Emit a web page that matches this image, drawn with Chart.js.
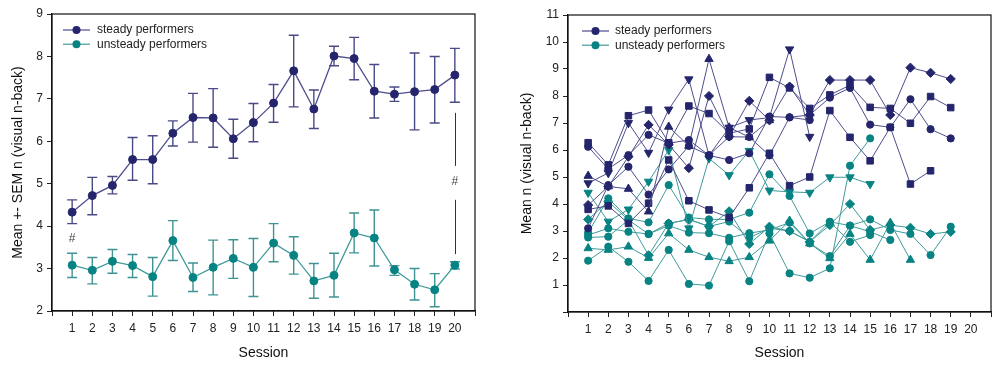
<!DOCTYPE html>
<html><head><meta charset="utf-8">
<script src="https://cdn.jsdelivr.net/npm/chart.js@4/dist/chart.umd.min.js"></script>
<style>
html,body{margin:0;padding:0;background:#fff;width:1000px;height:366px;overflow:hidden}
#w1{position:absolute;left:0;top:0;width:490px;height:366px}
#w2{position:absolute;left:500px;top:0;width:500px;height:366px}
</style></head><body>
<div id="w1"><canvas id="c1"></canvas></div>
<div id="w2"><canvas id="c2"></canvas></div>
<script>
// ---------- data ----------
const sessions = [1,2,3,4,5,6,7,8,9,10,11,12,13,14,15,16,17,18,19,20];
const legendLabels = ['steady performers','unsteady performers'];

// left chart: group means with SEM bounds
const steadyMean   = [4.33,4.72,4.96,5.57,5.57,6.19,6.56,6.55,6.06,6.44,6.90,7.66,6.76,8.01,7.95,7.18,7.11,7.17,7.22,7.56];
const steadyHi     = [4.62,5.15,5.17,6.09,6.13,6.48,7.13,7.24,6.52,6.89,7.34,8.50,7.21,8.24,8.45,7.81,7.28,8.08,8.00,8.19];
const steadyLo     = [4.06,4.27,4.76,5.08,5.00,5.89,5.98,5.86,5.60,5.99,6.45,6.81,6.30,7.78,7.45,6.55,6.94,6.27,6.43,6.92];
const unsteadyMean = [3.08,2.96,3.17,3.07,2.81,3.66,2.79,3.03,3.24,3.03,3.60,3.31,2.71,2.84,3.84,3.72,2.97,2.63,2.50,3.08];
const unsteadyHi   = [3.36,3.26,3.45,3.33,3.26,4.13,3.13,3.67,3.68,3.71,4.06,3.75,3.12,3.36,4.31,4.38,3.07,3.00,2.88,3.16];
const unsteadyLo   = [2.79,2.64,2.89,2.79,2.35,3.19,2.46,2.38,2.77,2.34,3.16,2.87,2.30,2.33,3.37,3.06,2.84,2.26,2.10,2.99];
// significance marks (left chart)
const hashMarks = [{x:1,y:3.70},{x:20,y:5.04}];
const sigLines  = [{x:20,from:5.42,to:6.67},{x:20,from:3.34,to:4.62}];

// right chart: individual subjects
const steadySquareA  = [6.27,5.45,7.27,7.48,6.27,7.63,7.35,6.62,6.78,8.69,8.30,7.54,8.04,8.40,7.58,7.54,6.99,7.98,7.57];
const steadyCircleA  = [6.12,5.30,5.81,6.56,6.25,6.37,5.80,5.63,5.88,7.24,7.21,7.30,7.94,8.30,6.94,6.84,7.88,6.77,6.43];
const steadyTriUp    = [5.04,4.65,4.56,3.72,6.86,6.15,9.37,6.83,6.48,7.10];
const steadyTriDown  = [4.77,5.15,7.00,5.90,7.50,8.62,5.80,6.83,7.11,7.20,9.73,6.49];
const steadyDiamond  = [3.96,4.65,5.75,6.93,6.20,5.33,8.00,6.50,7.82,7.10,8.35,7.30,8.59,8.59,8.59,7.30,9.05,8.86,8.63];
const steadySquareB  = [3.80,3.93,3.28,4.03,5.63,4.12,3.78,3.50,4.60,5.88,4.68,5.00,7.46,6.47,5.60,6.84,4.74,5.23];
const steadyCircleB  = [3.10,4.70,5.38,4.35,5.28,6.15,5.81,6.49,6.48,5.80,7.21,7.11];

const unsteadyTriDown = [4.42,3.35,3.80,4.83,6.00,3.10,5.69,5.07,5.97,4.50,4.45,4.42,4.99,4.99,4.74];
const unsteadyCircleA = [2.94,4.21,3.47,3.32,4.70,3.50,3.43,3.43,3.68,5.10,4.30,2.91,3.34,2.60,2.85];
const unsteadyDiamond = [3.43,4.09,3.41,2.10,3.28,3.43,3.17,3.73,2.52,3.16,3.00,2.60,3.22,4.00,3.04,3.22,3.12,2.89,2.97];
const unsteadyCircleB = [2.85,3.10,2.97,2.89,3.20,2.94,2.92,2.75,2.92,3.04,3.31,2.54,2.07,3.20,3.43,3.04,2.89,2.11,3.16];
const unsteadyTriUp   = [2.36,2.30,2.42,2.00,2.91,2.30,2.03,1.88,2.03,2.64,3.38,2.54,1.99,2.89,1.93,3.30,1.93];
const unsteadyCircleC = [1.90,2.42,1.86,1.15,2.30,1.04,0.98,2.62,1.14,2.91,1.43,1.27,1.62,5.42,6.43];
const unsteadyCircleD = [2.76,2.79,3.41,2.89,3.28,3.43,3.17,3.35,2.75,3.10,3.00,2.60,3.34,3.20,2.97,2.67];

// ---------- styling ----------
const NAVY='#25256d', NAVY_LINE='#4d4d8c', NAVY_ERR='#4a4a86';
const TEAL='#088383', TEAL_LINE='#3f9a9a', TEAL_ERR='#3f9393';
const FONT='"Liberation Sans", Arial, sans-serif';
const pts = arr => arr.map((v,i)=>({x:sessions[i], y:v}));

const errorBars = {
  id:'errorBars',
  beforeDatasetsDraw(chart){
    const {ctx} = chart, xs=chart.scales.x, ys=chart.scales.y;
    chart.data.datasets.forEach(ds=>{
      if(!ds.errHi) return;
      ctx.save(); ctx.strokeStyle=ds.errColor; ctx.lineWidth=1.4;
      ds.errHi.forEach((hi,i)=>{
        const x=xs.getPixelForValue(sessions[i]);
        const yh=ys.getPixelForValue(hi), yl=ys.getPixelForValue(ds.errLo[i]);
        ctx.beginPath();
        ctx.moveTo(x,yh); ctx.lineTo(x,yl);
        ctx.moveTo(x-5,yh); ctx.lineTo(x+5,yh);
        ctx.moveTo(x-5,yl); ctx.lineTo(x+5,yl);
        ctx.stroke();
      });
      ctx.restore();
    });
  }
};
const frame = {
  id:'frame',
  afterDraw(chart){
    const {ctx, chartArea:a} = chart;
    ctx.save(); ctx.strokeStyle='#111'; ctx.lineWidth=1.2;
    ctx.strokeRect(a.left, a.top, a.right-a.left, a.bottom-a.top);
    ctx.restore();
  }
};
function legendPlugin(dx, dtext){
  return {id:'customLegend', afterDraw(chart){
    const {ctx, chartArea:a} = chart;
    const items=[{t:legendLabels[0],l:NAVY_LINE,m:NAVY},{t:legendLabels[1],l:TEAL_LINE,m:TEAL}];
    items.forEach((it,i)=>{
      const y=a.top+16+i*14.2, x0=a.left+dx;
      ctx.save();
      ctx.strokeStyle=it.l; ctx.lineWidth=1.2;
      ctx.beginPath(); ctx.moveTo(x0,y); ctx.lineTo(x0+27,y); ctx.stroke();
      ctx.fillStyle=it.m; ctx.beginPath(); ctx.arc(x0+13.5,y,4,0,Math.PI*2); ctx.fill();
      ctx.fillStyle='#222'; ctx.font='12px '+FONT; ctx.textBaseline='middle';
      ctx.fillText(it.t, a.left+dtext, y);
      ctx.restore();
    });
  }};
}
const annotations = {
  id:'annot',
  afterDatasetsDraw(chart){
    const {ctx} = chart, xs=chart.scales.x, ys=chart.scales.y;
    ctx.save();
    ctx.strokeStyle='#333'; ctx.lineWidth=1;
    sigLines.forEach(s=>{
      const x=Math.round(xs.getPixelForValue(s.x))+0.5;
      ctx.beginPath(); ctx.moveTo(x,ys.getPixelForValue(s.from)); ctx.lineTo(x,ys.getPixelForValue(s.to)); ctx.stroke();
    });
    ctx.fillStyle='#444'; ctx.font='12px '+FONT; ctx.textAlign='center'; ctx.textBaseline='middle';
    hashMarks.forEach(h=>ctx.fillText('#', xs.getPixelForValue(h.x), ys.getPixelForValue(h.y)));
    ctx.restore();
  }
};

function axes(ymin, ymax, yTitle, yWidth, titlePad, xHeight, hideZero){
  const tickFont={family:FONT,size:12};
  return {
    x:{type:'linear',min:0,max:21,
       afterFit(s){s.height=xHeight;},
       ticks:{stepSize:1,autoSkip:false,maxRotation:0,padding:5,color:'#222',font:tickFont,
              callback:v=>(v>=1&&v<=20)?String(v):''},
       grid:{display:true,drawOnChartArea:false,drawTicks:true,tickLength:5,color:'#222',lineWidth:1},
       border:{display:true,color:'#111',width:1.2},
       title:{display:true,text:'Session',color:'#111',font:{family:FONT,size:14},padding:{top:4,bottom:4}}},
    y:{type:'linear',min:ymin,max:ymax,
       afterFit(s){s.width=yWidth;},
       ticks:{stepSize:1,padding:4,color:'#222',font:tickFont,
              callback:v=>(hideZero&&v===0)?'':String(v)},
       grid:{display:true,drawOnChartArea:false,drawTicks:true,tickLength:5,color:'#222',lineWidth:1},
       border:{display:true,color:'#111',width:1.2},
       title:{display:true,text:yTitle,color:'#111',font:{family:FONT,size:14},padding:{top:titlePad,bottom:4}}}
  };
}
const common = {responsive:true,maintainAspectRatio:false,animation:false,
  plugins:{legend:{display:false},tooltip:{enabled:false}}};

// ---------- left chart ----------
new Chart(document.getElementById('c1'),{
  type:'line',
  data:{datasets:[
    {label:legendLabels[0],data:pts(steadyMean),borderColor:NAVY_LINE,borderWidth:1.3,
     pointBackgroundColor:NAVY,pointBorderColor:NAVY,pointBorderWidth:1,pointRadius:4,
     errHi:steadyHi,errLo:steadyLo,errColor:NAVY_ERR,tension:0},
    {label:legendLabels[1],data:pts(unsteadyMean),borderColor:TEAL_LINE,borderWidth:1.3,
     pointBackgroundColor:TEAL,pointBorderColor:TEAL,pointBorderWidth:1,pointRadius:4,
     errHi:unsteadyHi,errLo:unsteadyLo,errColor:TEAL_ERR,tension:0}
  ]},
  options:Object.assign({},common,{
    layout:{padding:{top:14,right:15,left:0,bottom:0}},
    scales:axes(2,9,'Mean +- SEM n (visual n-back)',52,10,55,false)
  }),
  plugins:[errorBars,annotations,frame,legendPlugin(11,45)]
});

// ---------- right chart ----------
function subj(label, arr, col, line, style, rot){
  const r = style==='rect'?4.6:(style==='rectRot'?4.6:(style==='triangle'?4.8:3.6));
  return {label, data:pts(arr), borderColor:line, borderWidth:1, tension:0,
    pointStyle:style, pointRotation:rot||0, pointRadius:r,
    pointBackgroundColor:col, pointBorderColor:col, pointBorderWidth:1};
}
new Chart(document.getElementById('c2'),{
  type:'line',
  data:{datasets:[
    subj('steady',steadySquareA,NAVY,NAVY_LINE,'rect'),
    subj('steady',steadyCircleA,NAVY,NAVY_LINE,'circle'),
    subj('steady',steadyTriUp,NAVY,NAVY_LINE,'triangle'),
    subj('steady',steadyTriDown,NAVY,NAVY_LINE,'triangle',180),
    subj('steady',steadyDiamond,NAVY,NAVY_LINE,'rectRot'),
    subj('steady',steadySquareB,NAVY,NAVY_LINE,'rect'),
    subj('steady',steadyCircleB,NAVY,NAVY_LINE,'circle'),
    subj('unsteady',unsteadyTriDown,TEAL,TEAL_LINE,'triangle',180),
    subj('unsteady',unsteadyCircleA,TEAL,TEAL_LINE,'circle'),
    subj('unsteady',unsteadyDiamond,TEAL,TEAL_LINE,'rectRot'),
    subj('unsteady',unsteadyCircleB,TEAL,TEAL_LINE,'circle'),
    subj('unsteady',unsteadyTriUp,TEAL,TEAL_LINE,'triangle'),
    subj('unsteady',unsteadyCircleC,TEAL,TEAL_LINE,'circle'),
    subj('unsteady',unsteadyCircleD,TEAL,TEAL_LINE,'circle')
  ]},
  options:Object.assign({},common,{
    layout:{padding:{top:15,right:9,left:0,bottom:0}},
    scales:axes(0,11,'Mean n (visual n-back)',68,19,54,true)
  }),
  plugins:[frame,legendPlugin(14,47)]
});
</script>
</body></html>
